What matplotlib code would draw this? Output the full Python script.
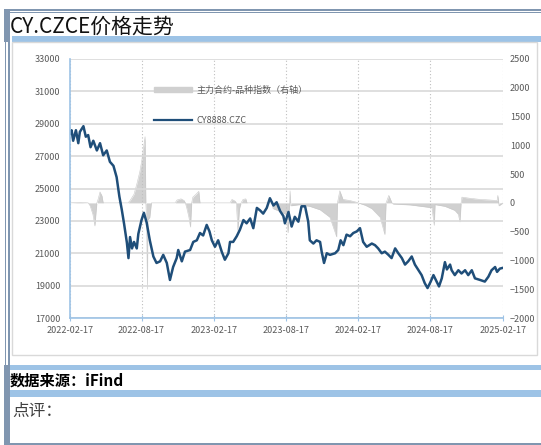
import matplotlib
matplotlib.use("Agg")
import matplotlib.pyplot as plt
import matplotlib.dates as mdates
from matplotlib.patches import Rectangle, Patch
from matplotlib.lines import Line2D
import pandas as pd

plt.rcParams['font.family'] = ['Noto Sans CJK SC', 'DejaVu Sans']

W, H = 541, 445

# CY8888.CZC close (left axis)
price_dates = [
    "2022-02-17", "2022-02-21", "2022-02-25", "2022-03-04", "2022-03-10", "2022-03-14",
    "2022-03-23", "2022-03-29", "2022-04-04", "2022-04-10", "2022-04-17", "2022-04-26",
    "2022-05-04", "2022-05-12", "2022-05-21", "2022-05-29", "2022-06-07", "2022-06-15",
    "2022-06-22", "2022-06-28", "2022-07-04", "2022-07-11", "2022-07-15", "2022-07-19",
    "2022-07-24", "2022-07-29", "2022-08-05", "2022-08-09", "2022-08-17", "2022-08-23",
    "2022-08-30", "2022-09-07", "2022-09-16", "2022-09-24", "2022-10-03", "2022-10-11",
    "2022-10-20", "2022-10-28", "2022-11-05", "2022-11-14", "2022-11-18", "2022-11-27",
    "2022-12-05", "2022-12-18", "2022-12-26", "2023-01-04", "2023-01-12", "2023-01-20",
    "2023-01-29", "2023-02-05", "2023-02-11", "2023-02-19", "2023-02-27", "2023-03-08",
    "2023-03-16", "2023-03-25", "2023-03-29", "2023-04-06", "2023-04-15", "2023-04-23",
    "2023-05-02", "2023-05-10", "2023-05-19", "2023-05-27", "2023-06-05", "2023-06-13",
    "2023-06-21", "2023-06-30", "2023-07-08", "2023-07-17", "2023-07-25", "2023-08-03",
    "2023-08-11", "2023-08-15", "2023-08-24", "2023-09-01", "2023-09-09", "2023-09-18",
    "2023-09-26", "2023-10-05", "2023-10-13", "2023-10-17", "2023-10-26", "2023-11-03",
    "2023-11-12", "2023-11-16", "2023-11-22", "2023-11-29", "2023-12-07", "2023-12-20",
    "2023-12-28", "2024-01-03", "2024-01-10", "2024-01-18", "2024-01-27", "2024-02-04",
    "2024-02-13", "2024-02-21", "2024-02-29", "2024-03-09", "2024-03-22", "2024-03-30",
    "2024-04-07", "2024-04-16", "2024-04-24", "2024-05-03", "2024-05-11", "2024-05-20",
    "2024-05-28", "2024-06-06", "2024-06-14", "2024-06-22", "2024-07-01", "2024-07-09",
    "2024-07-18", "2024-07-26", "2024-08-03", "2024-08-10", "2024-08-18", "2024-08-25",
    "2024-09-02", "2024-09-08", "2024-09-15", "2024-09-23", "2024-09-28", "2024-10-06",
    "2024-10-10", "2024-10-18", "2024-10-27", "2024-11-04", "2024-11-13", "2024-11-21",
    "2024-11-30", "2024-12-08", "2024-12-21", "2025-01-02", "2025-01-11", "2025-01-19",
    "2025-01-28", "2025-02-02", "2025-02-09", "2025-02-17",
]
price_vals = [
    28400, 28600, 27950, 28600, 27800, 28500,
    28850, 28200, 28300, 27550, 27950, 27350,
    27800, 27050, 27350, 26650, 26400, 25700,
    24500, 23700, 22800, 21650, 20700, 22000,
    21300, 21700, 21300, 22200, 23050, 23500,
    22900, 21800, 20800, 20400, 20500, 20900,
    20400, 19350, 20150, 20700, 21200, 20500,
    21100, 21200, 21700, 21800, 22250, 22100,
    22750, 22350, 21800, 21400, 21800, 21100,
    20600, 21000, 21700, 21700, 22050, 22450,
    23050, 22850, 23150, 22550, 23800, 23650,
    23450, 23800, 24400, 23950, 24150, 23600,
    23300, 22850, 23550, 22650, 23250, 22950,
    23900, 23900, 22950, 21800, 21600, 21800,
    21700, 21100, 20400, 21000, 20900, 21000,
    21200, 21800, 21500, 22150, 22050, 22250,
    22350, 22550, 21700, 21400, 21600, 21500,
    21300, 21000, 21100, 20900, 20700, 21300,
    21000, 20700, 20300, 20500, 20800, 20300,
    19950, 19650, 19150, 18850, 19250, 19650,
    19250, 18950, 19450, 20450, 20000, 20300,
    19950, 19650, 19950, 19750, 19950, 19650,
    19950, 19450, 19350, 19250, 19550, 19950,
    20150, 19850, 20050, 20100,
]

# 主力合约-品种指数 spread (right axis)
spread_dates = [
    "2022-02-17", "2022-03-14", "2022-04-04", "2022-04-09", "2022-04-16", "2022-04-21",
    "2022-04-24", "2022-04-26", "2022-04-29", "2022-05-04", "2022-05-09", "2022-05-12",
    "2022-06-18", "2022-06-24", "2022-06-29", "2022-07-14", "2022-07-19", "2022-07-29",
    "2022-08-06", "2022-08-13", "2022-08-18", "2022-08-23", "2022-08-26", "2022-08-28",
    "2022-08-30", "2022-09-01", "2022-09-02", "2022-09-07", "2022-09-11", "2022-11-10",
    "2022-11-15", "2022-11-25", "2022-12-03", "2022-12-06", "2022-12-10", "2022-12-15",
    "2022-12-19", "2022-12-22", "2022-12-25", "2023-01-02", "2023-01-09", "2023-01-12",
    "2023-03-29", "2023-04-03", "2023-04-11", "2023-04-14", "2023-04-18", "2023-04-22",
    "2023-04-26", "2023-05-01", "2023-05-08", "2023-05-11", "2023-07-13", "2023-07-16",
    "2023-08-03", "2023-08-18", "2023-08-23", "2023-08-27", "2023-08-28", "2023-08-30",
    "2023-09-22", "2023-10-17", "2023-11-12", "2023-12-07", "2023-12-24", "2023-12-26",
    "2024-01-01", "2024-01-09", "2024-01-27", "2024-02-13", "2024-02-16", "2024-03-05",
    "2024-03-22", "2024-04-12", "2024-04-24", "2024-04-27", "2024-05-04", "2024-05-12",
    "2024-05-15", "2024-06-27", "2024-08-11", "2024-08-21", "2024-08-27", "2024-08-29",
    "2024-09-23", "2024-10-18", "2024-10-27", "2024-10-31", "2024-11-03", "2024-11-05",
    "2024-11-25", "2024-12-21", "2025-01-15", "2025-02-02", "2025-02-04", "2025-02-07",
    "2025-02-17",
]
spread_vals = [
    0, 10, 0, -50, -200, -400,
    -150, 0, 60, 190, 120, 0,
    0, 20, 0, 0, 40, 150,
    350, 550, 750, 1000, 1150, 0,
    -350, -1500, -300, -250, 0, 0,
    50, 70, 40, 0, -100, -250,
    -420, 0, 100, 150, 200, 0,
    0, 60, 30, 0, -480, -100,
    0, 60, 70, 0, 0, -100,
    -150, -200, -520, 0, 210, -50,
    -30, -60, -120, -250, -590, 0,
    210, 60, 40, 10, 0, -40,
    -100, -250, -550, 0, 130, 0,
    -20, -35, -75, -80, -390, -30,
    -60, -130, -200, -330, 0, 100,
    80, 60, 50, 40, 130, -50,
    0,
]

x_ticks = ["2022-02-17", "2022-08-17", "2023-02-17", "2023-08-17",
           "2024-02-17", "2024-08-17", "2025-02-17"]

title = "CY.CZCE价格走势"
source = "数据来源：iFind"
comment = "点评："
line_label = "CY8888.CZC"
area_label = "主力合约-品种指数（右轴）"

BLUE_BAND = '#9dc3e6'
SLATE = '#8096b0'
LINE_C = '#1f4e79'
AREA_C = '#d0d0d0'
TICK_C = '#595959'

fig = plt.figure(figsize=(W / 100, H / 100), dpi=100)


def fx(px):
    return px / W


def fy(py):
    return 1 - py / H


def box(x0, y0, x1, y1, color, **kw):
    fig.add_artist(Rectangle((fx(x0), fy(y1)), fx(x1) - fx(x0), fy(y0) - fy(y1),
                             transform=fig.transFigure, color=color, lw=0, **kw))


# table frame
box(4, 9.3, W, 11, SLATE)
box(4, 12, W, 12.8, SLATE)
box(4, 9.3, 9.5, 42, SLATE)
box(4.5, 42, 6, 365, SLATE)
box(8, 42, 9.5, 365, SLATE)
box(4, 365, 9.5, H, SLATE)
box(4, 443, W, H, SLATE)
box(12, 36, W, 42, BLUE_BAND)
box(9.5, 365, W, 369.5, BLUE_BAND)
box(9.5, 390, W, 397, BLUE_BAND)
# chart frame
fig.add_artist(Rectangle((fx(12), fy(355)), fx(537) - fx(12), fy(42) - fy(355),
                         transform=fig.transFigure, fill=False, ec='#d9d9d9', lw=1))

fig.text(fx(10), fy(27), title, fontsize=15, va='center', ha='left', color='#111111')
fig.text(fx(10), fy(381), source, fontsize=11, va='center', ha='left',
         fontweight='bold', color='black')
fig.text(fx(12), fy(411), comment, fontsize=12, va='center', ha='left', color='#404040')

# chart
ax = fig.add_axes([fx(70), fy(318), fx(503) - fx(70), fy(59) - fy(318)])
ax2 = ax.twinx()
ax.set_zorder(ax2.get_zorder() + 1)
ax.patch.set_visible(False)

pd_price = pd.to_datetime(price_dates)
pd_spread = pd.to_datetime(spread_dates)

ax2.fill_between(pd_spread, 0, spread_vals, color=AREA_C, lw=0)
ax2.plot(pd_spread, spread_vals, color='#c8c8c8', lw=0.4)
ax.plot(pd_price, price_vals, color=LINE_C, lw=1.8)

xt = pd.to_datetime(x_ticks)
ax.set_xlim(xt[0], xt[-1])
ax.set_xticks(xt)
ax.xaxis.set_major_formatter(mdates.DateFormatter('%Y-%m-%d'))
ax.set_ylim(17000, 33000)
ax.set_yticks(range(17000, 33001, 2000))
ax2.set_ylim(-2000, 2500)
ax2.set_yticks(range(-2000, 2501, 500))

ax.grid(axis='y', color='#d9d9d9', lw=1.2)
ax.grid(axis='x', color='#bfbfbf', lw=0.8, linestyle=(0, (1, 2)))
ax.set_axisbelow(True)

for a in (ax, ax2):
    for s in a.spines.values():
        s.set_visible(False)
ax.spines['left'].set_visible(True)
ax.spines['left'].set_color(BLUE_BAND)
ax.spines['bottom'].set_visible(True)
ax.spines['bottom'].set_color(BLUE_BAND)
ax.spines['left'].set_linewidth(1.2)
ax.spines['bottom'].set_linewidth(1.2)

ax.tick_params(axis='y', length=0, labelsize=6.5, labelcolor=TICK_C, pad=7)
ax.tick_params(axis='x', direction='inout', length=4, color=BLUE_BAND,
               labelsize=6.5, labelcolor=TICK_C, pad=4)
ax2.tick_params(axis='y', length=0, labelsize=6.5, labelcolor=TICK_C, pad=5)

handles = [Patch(color=AREA_C), Line2D([], [], color=LINE_C, lw=1.6)]
ax.legend(handles, [area_label, line_label], loc='upper left',
          bbox_to_anchor=(fx(150 - 70) / (fx(433)), 0.91), frameon=False,
          fontsize=6.5, handlelength=4.3, handleheight=0.5, labelspacing=2.3,
          handletextpad=0.5, labelcolor=TICK_C, borderaxespad=0)

fig.savefig("out.png", dpi=100)
